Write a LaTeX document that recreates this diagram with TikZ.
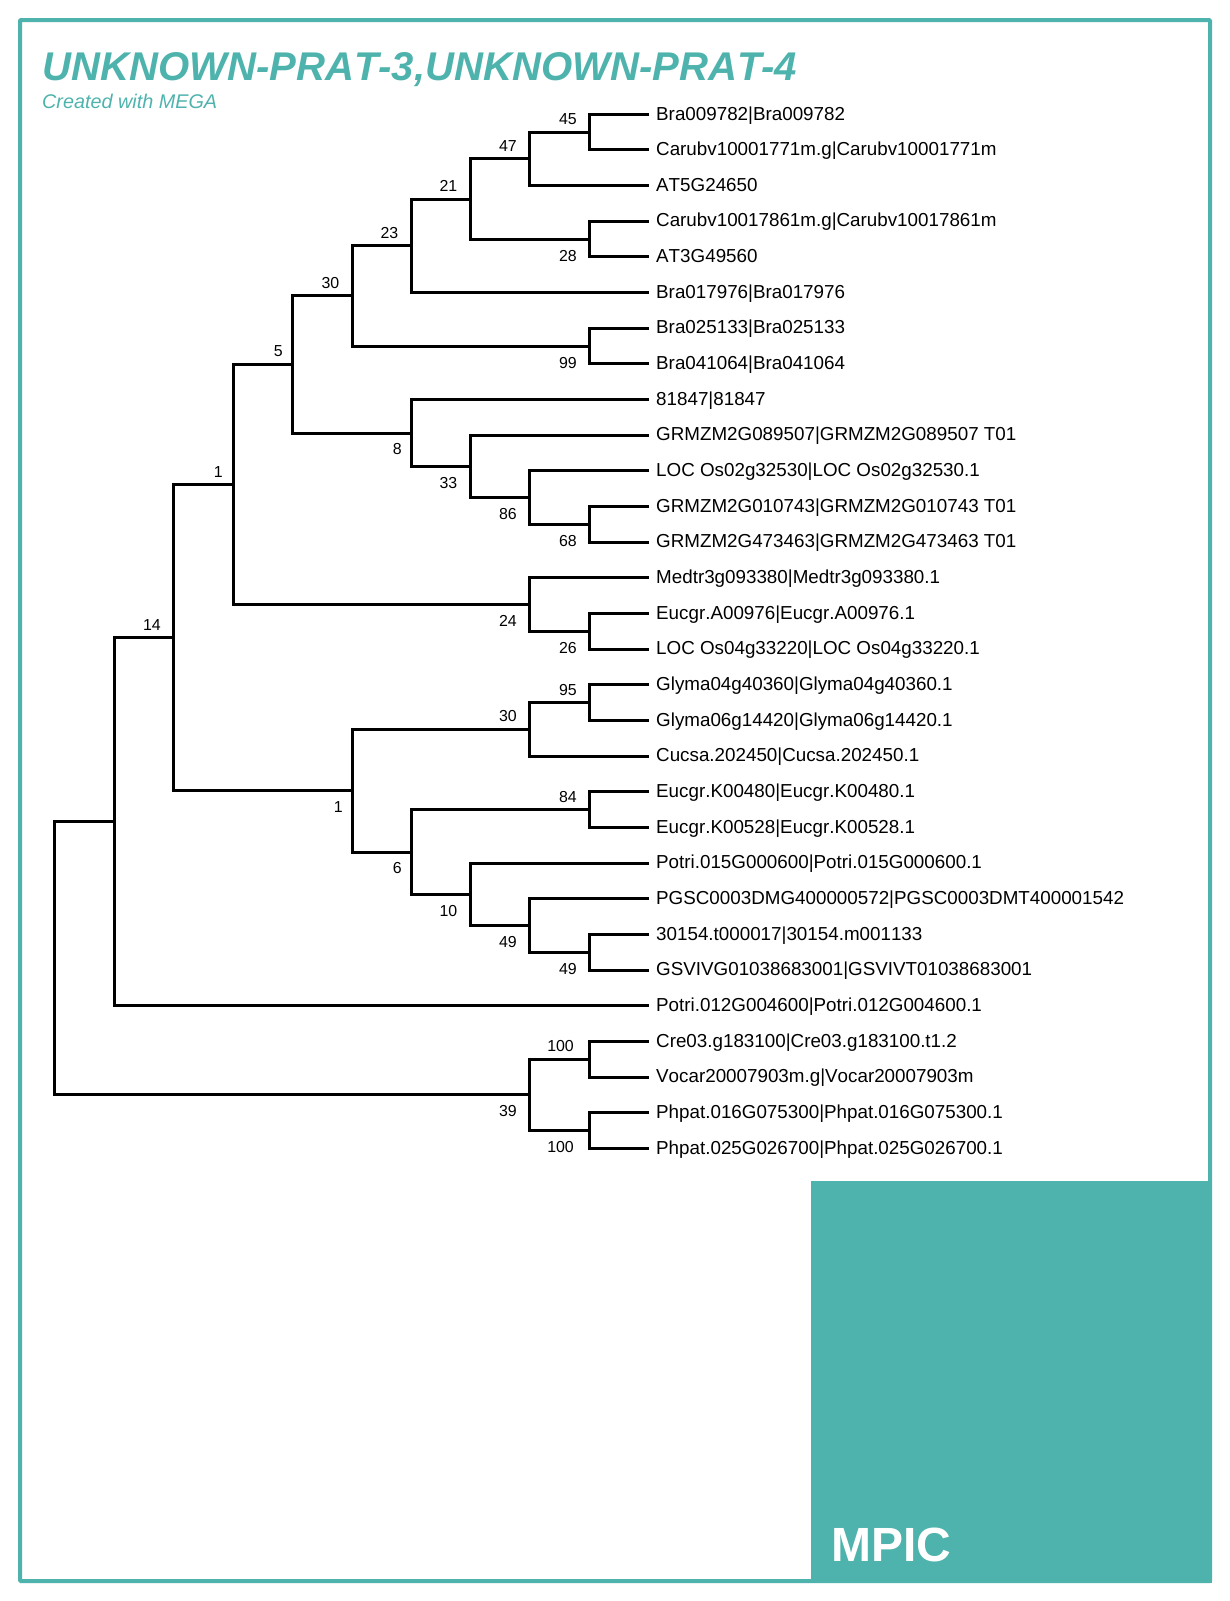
\documentclass[tikz,border=0pt]{standalone}
\usepackage{fontspec}
\setmainfont[Kerning=Off]{Liberation Sans}
\definecolor{mpicteal}{HTML}{4FB3AD}
\tikzstyle{leaf} = [anchor=west, inner xsep=7pt, inner ysep=0pt, text height=14.7pt, text depth=3.3pt, font=\fontsize{18.8}{20}\selectfont]
\tikzset{under/.style={at={([yshift=-35.66pt]#1.west)}}}
\tikzstyle{support} = [anchor=east, inner sep=0pt, text height=11.5pt, text depth=0pt, font=\fontsize{15.9}{17}\selectfont]
\tikzstyle{supup} = [support, xshift=-12.5pt, yshift=13.3pt]
\tikzstyle{supdown} = [support, xshift=-12.5pt, yshift=-16.2pt]
\tikzstyle{branch} = [line width=3pt, black]
\tikzstyle{title} = [anchor=base west, inner sep=0pt, text=mpicteal, font=\fontsize{40.1}{42}\selectfont\bfseries\itshape]
\tikzstyle{subtitle} = [anchor=base west, inner sep=0pt, text=mpicteal, font=\fontsize{19.8}{22}\selectfont\itshape]
\tikzstyle{panel} = [anchor=south east, inner sep=0pt, minimum width=401pt, minimum height=402pt, fill=mpicteal]
\tikzstyle{mpic} = [anchor=base west, inner sep=0pt, text=white, font=\fontsize{48}{50}\selectfont\bfseries]

\begin{document}
\begin{tikzpicture}[x=1pt, y=-1pt]
\useasboundingbox (0,0) rectangle (1230,1601);
\draw [mpicteal, line width=4pt, rounded corners=1pt] (20,20) rectangle (1210,1581);
\node (title) [title] at (42,80) {UNKNOWN-PRAT-3,UNKNOWN-PRAT-4};
\node (subtitle) [subtitle] at (42,108) {Created with MEGA};
\node (panel) [panel] at (1212,1583) {};
\node (mpiclabel) [mpic] at (831,1561.5) {MPIC};

% taxa
\node (leaf1) [leaf] at (649,114.3) {Bra009782|Bra009782};
\node (leaf2) [leaf, under=leaf1] {Carubv10001771m.g|Carubv10001771m};
\node (leaf3) [leaf, under=leaf2] {AT5G24650};
\node (leaf4) [leaf, under=leaf3] {Carubv10017861m.g|Carubv10017861m};
\node (leaf5) [leaf, under=leaf4] {AT3G49560};
\node (leaf6) [leaf, under=leaf5] {Bra017976|Bra017976};
\node (leaf7) [leaf, under=leaf6] {Bra025133|Bra025133};
\node (leaf8) [leaf, under=leaf7] {Bra041064|Bra041064};
\node (leaf9) [leaf, under=leaf8] {81847|81847};
\node (leaf10) [leaf, under=leaf9] {GRMZM2G089507|GRMZM2G089507 T01};
\node (leaf11) [leaf, under=leaf10] {LOC Os02g32530|LOC Os02g32530.1};
\node (leaf12) [leaf, under=leaf11] {GRMZM2G010743|GRMZM2G010743 T01};
\node (leaf13) [leaf, under=leaf12] {GRMZM2G473463|GRMZM2G473463 T01};
\node (leaf14) [leaf, under=leaf13] {Medtr3g093380|Medtr3g093380.1};
\node (leaf15) [leaf, under=leaf14] {Eucgr.A00976|Eucgr.A00976.1};
\node (leaf16) [leaf, under=leaf15] {LOC Os04g33220|LOC Os04g33220.1};
\node (leaf17) [leaf, under=leaf16] {Glyma04g40360|Glyma04g40360.1};
\node (leaf18) [leaf, under=leaf17] {Glyma06g14420|Glyma06g14420.1};
\node (leaf19) [leaf, under=leaf18] {Cucsa.202450|Cucsa.202450.1};
\node (leaf20) [leaf, under=leaf19] {Eucgr.K00480|Eucgr.K00480.1};
\node (leaf21) [leaf, under=leaf20] {Eucgr.K00528|Eucgr.K00528.1};
\node (leaf22) [leaf, under=leaf21] {Potri.015G000600|Potri.015G000600.1};
\node (leaf23) [leaf, under=leaf22] {PGSC0003DMG400000572|PGSC0003DMT400001542};
\node (leaf24) [leaf, under=leaf23] {30154.t000017|30154.m001133};
\node (leaf25) [leaf, under=leaf24] {GSVIVG01038683001|GSVIVT01038683001};
\node (leaf26) [leaf, under=leaf25] {Potri.012G004600|Potri.012G004600.1};
\node (leaf27) [leaf, under=leaf26] {Cre03.g183100|Cre03.g183100.t1.2};
\node (leaf28) [leaf, under=leaf27] {Vocar20007903m.g|Vocar20007903m};
\node (leaf29) [leaf, under=leaf28] {Phpat.016G075300|Phpat.016G075300.1};
\node (leaf30) [leaf, under=leaf29] {Phpat.025G026700|Phpat.025G026700.1};

% clades
\coordinate (c45) at (589.5,132.13);
\coordinate (c47) at (529.5,158.88);
\coordinate (c28) at (589.5,239.11);
\coordinate (c21) at (470,199);
\coordinate (c23) at (411,245.8);
\coordinate (c99) at (589.5,346.09);
\coordinate (c30a) at (352,295.95);
\coordinate (c68) at (589.5,524.39);
\coordinate (c86) at (529.5,497.65);
\coordinate (c33) at (470,466.45);
\coordinate (c8) at (411,433);
\coordinate (c5) at (292.5,364.5);
\coordinate (c26) at (589.5,631.37);
\coordinate (c24) at (529.5,604.6);
\coordinate (c1a) at (233.5,484.55);
\coordinate (c95) at (589.5,702.69);
\coordinate (c30b) at (529.5,729.4);
\coordinate (c84) at (589.5,809.67);
\coordinate (c49b) at (589.5,952.31);
\coordinate (c49a) at (529.5,925.55);
\coordinate (c10) at (470,894.35);
\coordinate (c6) at (411,852);
\coordinate (c1b) at (352,790.7);
\coordinate (c14) at (173.5,637.6);
\coordinate (c0) at (114,821.7);
\coordinate (c100a) at (589.5,1059.29);
\coordinate (c100b) at (589.5,1130.61);
\coordinate (c39) at (529.5,1094.95);
\coordinate (root) at (54,958.3);

\draw [branch] (leaf1) -| (c45) |- (leaf2);
\draw [branch] (c45) -| (c47) |- (leaf3);
\draw [branch] (leaf4) -| (c28) |- (leaf5);
\draw [branch] (c47) -| (c21) |- (c28);
\draw [branch] (c21) -| (c23) |- (leaf6);
\draw [branch] (leaf7) -| (c99) |- (leaf8);
\draw [branch] (c23) -| (c30a) |- (c99);
\draw [branch] (leaf12) -| (c68) |- (leaf13);
\draw [branch] (leaf11) -| (c86) |- (c68);
\draw [branch] (leaf10) -| (c33) |- (c86);
\draw [branch] (leaf9) -| (c8) |- (c33);
\draw [branch] (c30a) -| (c5) |- (c8);
\draw [branch] (leaf15) -| (c26) |- (leaf16);
\draw [branch] (leaf14) -| (c24) |- (c26);
\draw [branch] (c5) -| (c1a) |- (c24);
\draw [branch] (leaf17) -| (c95) |- (leaf18);
\draw [branch] (c95) -| (c30b) |- (leaf19);
\draw [branch] (leaf20) -| (c84) |- (leaf21);
\draw [branch] (leaf24) -| (c49b) |- (leaf25);
\draw [branch] (leaf23) -| (c49a) |- (c49b);
\draw [branch] (leaf22) -| (c10) |- (c49a);
\draw [branch] (c84) -| (c6) |- (c10);
\draw [branch] (c30b) -| (c1b) |- (c6);
\draw [branch] (c1a) -| (c14) |- (c1b);
\draw [branch] (c14) -| (c0) |- (leaf26);
\draw [branch] (leaf27) -| (c100a) |- (leaf28);
\draw [branch] (leaf29) -| (c100b) |- (leaf30);
\draw [branch] (c100a) -| (c39) |- (c100b);
\draw [branch] (c0) -| (root) |- (c39);

% support values
\node (s45) [supup] at (c45) {45};
\node (s47) [supup] at (c47) {47};
\node (s21) [supup] at (c21) {21};
\node (s23) [supup] at (c23) {23};
\node (s30a) [supup] at (c30a) {30};
\node (s5) [supup, xshift=3pt] at (c5) {5};
\node (s1a) [supup, xshift=2pt] at (c1a) {1};
\node (s14) [supup] at (c14) {14};
\node (s95) [supup] at (c95) {95};
\node (s30b) [supup] at (c30b) {30};
\node (s84) [supup] at (c84) {84};
\node (s100a) [supup, xshift=-3pt] at (c100a) {100};
\node (s28) [supdown] at (c28) {28};
\node (s99) [supdown] at (c99) {99};
\node (s68) [supdown] at (c68) {68};
\node (s86) [supdown] at (c86) {86};
\node (s33) [supdown] at (c33) {33};
\node (s8) [supdown, xshift=3.5pt] at (c8) {8};
\node (s26) [supdown] at (c26) {26};
\node (s24) [supdown] at (c24) {24};
\node (s49b) [supdown] at (c49b) {49};
\node (s49a) [supdown] at (c49a) {49};
\node (s10) [supdown] at (c10) {10};
\node (s6) [supdown, xshift=3.5pt] at (c6) {6};
\node (s1b) [supdown, xshift=3.5pt] at (c1b) {1};
\node (s100b) [supdown, xshift=-3pt] at (c100b) {100};
\node (s39) [supdown] at (c39) {39};
\end{tikzpicture}
\end{document}
